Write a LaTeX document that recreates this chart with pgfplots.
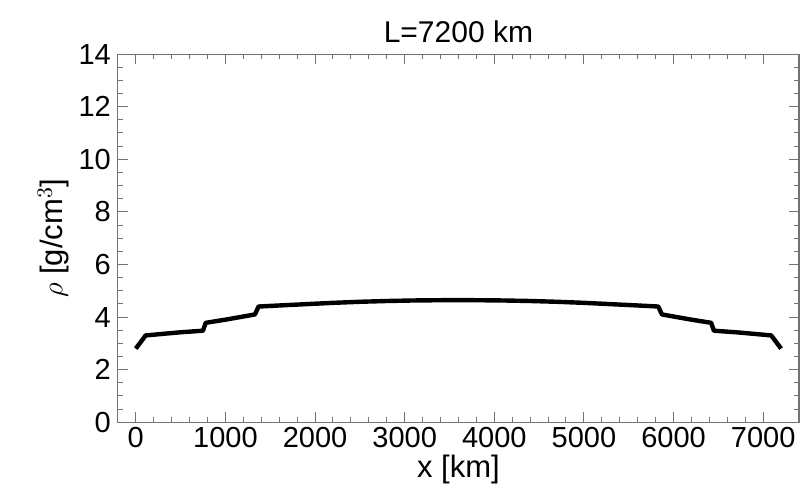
\documentclass[border=0pt]{standalone}
\usepackage{pgfplots}
\pgfplotsset{compat=1.18}
\usepackage{fontspec}
\setmainfont{Liberation Sans}
\begin{document}
\begin{tikzpicture}
\begin{axis}[
  scale only axis,
  width=340.5pt, height=184pt,
  xmin=-200, xmax=7400,
  ymin=0, ymax=14,
  xtick={0,1000,...,7000},
  ytick={0,2,...,14},
  minor x tick num=4,
  minor y tick num=3,
  tick align=inside,
  major tick length=5pt,
  minor tick length=2.5pt,
  axis line style={black!55, line width=0.6pt},
  every tick/.style={black!55, line width=0.5pt},
  tick label style={font=\fontsize{14.5}{16}\selectfont},
  xticklabel style={yshift=1pt},
  /pgf/number format/assume math mode=true,
  /pgf/number format/1000 sep={},
  title={L=7200 km},
  title style={font=\fontsize{15}{17}\selectfont, yshift=-4pt},
  xlabel={x [km]},
  xlabel style={font=\fontsize{15.5}{17}\selectfont, yshift=3.5pt},
  ylabel={$\rho$ [g/cm$^3$]},
  ylabel style={font=\fontsize{15.5}{17}\selectfont, yshift=-2pt},
  clip=false,
]
\addplot[black, line width=2.2pt, line join=round] coordinates {
(0,2.80) (110,3.30) (300,3.36) (500,3.42) (750,3.48)
(780,3.78) (1000,3.90) (1200,4.02) (1330,4.10)
(1370,4.40) (1600,4.44) (1900,4.49) (2200,4.54) (2500,4.58) (2800,4.61) (3100,4.63) (3400,4.64) (3600,4.645)
(3800,4.64) (4100,4.63) (4400,4.61) (4700,4.58) (5000,4.54) (5300,4.49) (5600,4.44) (5830,4.40)
(5870,4.10) (6000,4.02) (6200,3.90) (6420,3.78)
(6450,3.48) (6700,3.42) (6900,3.36) (7090,3.30) (7200,2.80)
};
\path (rel axis cs:-0.173,-0.177) rectangle (rel axis cs:1.0088,1.147);
\end{axis}
\end{tikzpicture}
\end{document}
